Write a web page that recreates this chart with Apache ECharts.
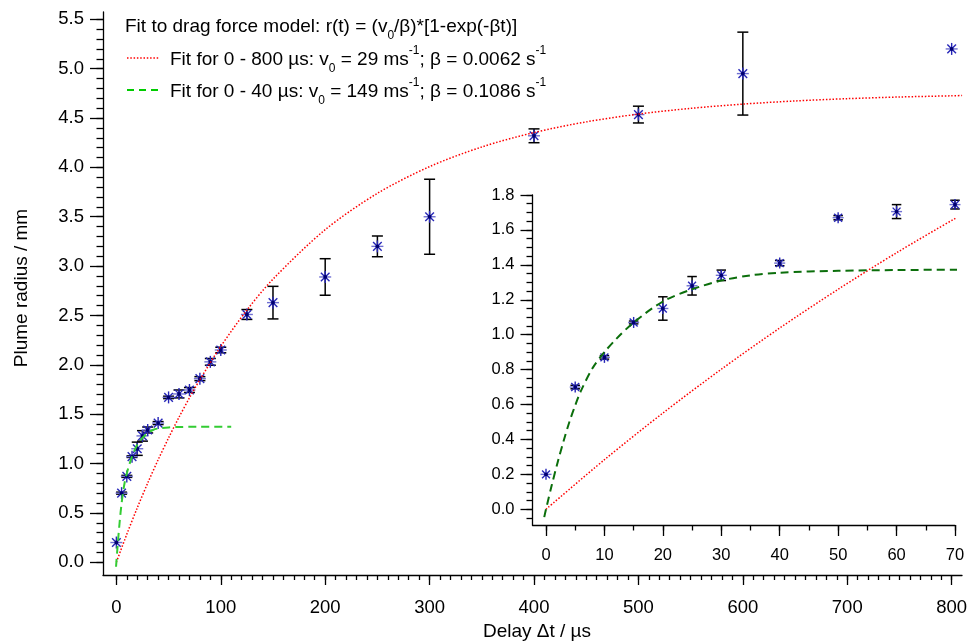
<!DOCTYPE html>
<html><head><meta charset="utf-8">
<script src="https://cdn.jsdelivr.net/npm/echarts@6/dist/echarts.min.js"></script>
<style>html,body{margin:0;padding:0;background:#fff}#chart{width:977px;height:644px}</style>
</head><body><div id="chart"></div>
<script>
// ---- data ----
const delayUs   = [0,5,10,15,20,25,30,40,50,60,70,80,90,100,125,150,200,250,300,400,500,600,800];
const radiusMm  = [0.20,0.70,0.87,1.07,1.15,1.28,1.34,1.41,1.67,1.705,1.745,1.86,2.03,2.15,2.51,2.63,2.89,3.20,3.50,4.32,4.535,4.95,5.20];
const radiusErr = [0,0.01,0.01,0.008,0.067,0.053,0.03,0.015,0.012,0.04,0.025,0.02,0.034,0.028,0.05,0.165,0.185,0.105,0.38,0.07,0.085,0.42,0];

// red dotted fit (0 - 800 us)
const fitLongT = [0,10,20,30,40,50,60,70,80,100,125,150,200,250,300,350,400,450,500,550,600,650,700,750,800,810];
const fitLongR = [0,0.284,0.551,0.802,1.038,1.260,1.469,1.665,1.850,2.187,2.554,2.868,3.369,3.737,4.008,4.207,4.353,4.461,4.540,4.598,4.641,4.673,4.696,4.713,4.725,4.728];
// green dashed fit (0 - 40 us)
const fitShortT = [-0.3,0,1,2,3,4,5,6,8,10,12,15,20,25,30,35,40,50,60,70,80,110];
const fitShortR = [-0.045,0,0.14,0.27,0.39,0.50,0.595,0.68,0.81,0.90,0.975,1.07,1.19,1.26,1.31,1.34,1.355,1.366,1.370,1.372,1.372,1.372];

// tick labels
const mainXTicks  = [0,100,200,300,400,500,600,700,800];
const mainYTicks  = [0,0.5,1.0,1.5,2.0,2.5,3.0,3.5,4.0,4.5,5.0,5.5];
const insetXTicks = [0,10,20,30,40,50,60,70];
const insetYTicks = [0,0.2,0.4,0.6,0.8,1.0,1.2,1.4,1.6,1.8];

function steps(a, b, s){ const out=[]; const n=Math.round((b-a)/s); for(let i=0;i<=n;i++) out.push(+(a+i*s).toFixed(4)); return out; }
const mainXMinor  = steps(0,800,10);
const mainYMinor  = steps(0,5.5,0.1);
const insetXMinor = steps(0,70,5);
const insetYMinor = steps(-0.05,1.8,0.05);

const FONT = '"Liberation Sans", Arial, Helvetica, sans-serif';
const rows = delayUs.map((t,i)=>[t, radiusMm[i], radiusErr[i]]);
const insetRows = rows.filter(r=>r[0] <= 70);
const longLine = fitLongT.map((t,i)=>[t, fitLongR[i]]);
const shortLine = fitShortT.map((t,i)=>[t, fitShortR[i]]);

function axis(kind, grid, min, max, ticks, tickLen, labels, fontSize, margin, fmt, showLine){
  return {
    type:'value', gridIndex:grid, min:min, max:max,
    position: kind==='x' ? 'bottom' : 'left',
    axisLine:{show:showLine, onZero:false, lineStyle:{color:'#000', width:1.3}},
    axisTick:{show:true, inside:false, length:tickLen, customValues:ticks, lineStyle:{color:'#000', width:1.3}},
    axisLabel: labels ? {show:true, customValues:ticks, margin:margin, fontSize:fontSize, fontFamily:FONT, color:'#000', formatter:fmt} : {show:false},
    splitLine:{show:false}, minorTick:{show:false}, minorSplitLine:{show:false}
  };
}
const fmt1 = v => Number(v).toFixed(1);
const fmt0 = v => String(Math.round(v));

function errRender(cap){
  return function(params, api){
    const x=api.value(0), y=api.value(1), e=api.value(2);
    if(!(e>0)) return {type:'group', children:[]};
    const p1=api.coord([x,y+e]), p2=api.coord([x,y-e]);
    const st={stroke:'#000', lineWidth:1.5};
    return {type:'group', children:[
      {type:'line', shape:{x1:p1[0],y1:p1[1],x2:p2[0],y2:p2[1]}, style:st},
      {type:'line', shape:{x1:p1[0]-cap/2,y1:p1[1],x2:p1[0]+cap/2,y2:p1[1]}, style:st},
      {type:'line', shape:{x1:p2[0]-cap/2,y1:p2[1],x2:p2[0]+cap/2,y2:p2[1]}, style:st}
    ]};
  };
}
function starRender(size){
  return function(params, api){
    const p=api.coord([api.value(0), api.value(1)]);
    const r=size/2, d=r*0.72, cx=p[0], cy=p[1];
    const dark={stroke:'#2626b8', lineWidth:1.4};
    const light={stroke:'#7070d2', lineWidth:1.4};
    return {type:'group', children:[
      {type:'line', shape:{x1:cx-r,y1:cy,x2:cx+r,y2:cy}, style:light},
      {type:'line', shape:{x1:cx,y1:cy-r,x2:cx,y2:cy+r}, style:dark},
      {type:'line', shape:{x1:cx-d,y1:cy-d,x2:cx+d,y2:cy+d}, style:dark},
      {type:'line', shape:{x1:cx-d,y1:cy+d,x2:cx+d,y2:cy-d}, style:dark},
      {type:'circle', shape:{cx:cx, cy:cy, r:1.9}, style:{fill:'#000070'}}
    ]};
  };
}

const chart = echarts.init(document.getElementById('chart'), null, {renderer:'canvas'});
const subSup = {
  sub:{fontSize:12, fontFamily:FONT, lineHeight:18, verticalAlign:'bottom', fill:'#000'},
  sup:{fontSize:12, fontFamily:FONT, lineHeight:12, verticalAlign:'top', fill:'#000'}
};
const legendStyle = (txt) => ({text:txt, fontSize:19, fontFamily:FONT, fill:'#000', lineHeight:30, verticalAlign:'middle', align:'left', rich:subSup});

chart.setOption({
  animation:false,
  backgroundColor:'#fff',
  grid:[
    {left:103, top:12, width:859, height:563, containLabel:false},
    {left:532.5, top:195, width:422.5, height:330, containLabel:false}
  ],
  xAxis:[
    axis('x',0,-12.8,809.9, mainXTicks, 10, true, 18.5, 23, fmt0, true),
    axis('x',0,-12.8,809.9, mainXMinor, 5, false, 0, 0, null, false),
    axis('x',1,-2.31,70, insetXTicks, 11, true, 16.5, 22, fmt0, true),
    axis('x',1,-2.31,70, insetXMinor, 5.5, false, 0, 0, null, false)
  ],
  yAxis:[
    axis('y',0,-0.129,5.574, mainYTicks, 13, true, 18.5, 19, fmt1, true),
    axis('y',0,-0.129,5.574, mainYMinor, 6.5, false, 0, 0, null, false),
    axis('y',1,-0.09,1.8, insetYTicks, 12, true, 16.5, 18, fmt1, true),
    axis('y',1,-0.09,1.8, insetYMinor, 6, false, 0, 0, null, false)
  ],
  series:[
    {type:'custom', xAxisIndex:0, yAxisIndex:0, data:rows, renderItem:errRender(11), encode:{x:0,y:1}, z:2},
    {type:'custom', xAxisIndex:0, yAxisIndex:0, data:rows, renderItem:starRender(12), encode:{x:0,y:1}, z:3},
    {type:'line', xAxisIndex:0, yAxisIndex:0, data:longLine, showSymbol:false, smooth:0.3, clip:true,
      lineStyle:{color:'#ff0000', width:1.5, type:[1.5,1.8]}, z:4},
    {type:'line', xAxisIndex:0, yAxisIndex:0, data:shortLine, showSymbol:false, smooth:0.3, clip:true,
      lineStyle:{color:'#33cc33', width:2, type:[8,5]}, z:4},
    {type:'custom', xAxisIndex:2, yAxisIndex:2, data:insetRows, renderItem:errRender(9.5), encode:{x:0,y:1}, z:2},
    {type:'custom', xAxisIndex:2, yAxisIndex:2, data:insetRows, renderItem:starRender(11), encode:{x:0,y:1}, z:3},
    {type:'line', xAxisIndex:2, yAxisIndex:2, data:longLine, showSymbol:false, smooth:0.3, clip:true,
      lineStyle:{color:'#ff0000', width:1.5, type:[1.5,1.8]}, z:4},
    {type:'line', xAxisIndex:2, yAxisIndex:2, data:shortLine, showSymbol:false, smooth:0.3, clip:true,
      lineStyle:{color:'#0b6e0b', width:2, type:[8,5]}, z:4}
  ],
  graphic:[
    {type:'text', x:125, y:27, style:legendStyle('Fit to drag force model: r(t) = (v{sub|0}/β)*[1-exp(-βt)]')},
    {type:'line', shape:{x1:127,y1:58,x2:159,y2:58}, style:{stroke:'#ff0000', lineWidth:1.5, lineDash:[1.5,1.8]}},
    {type:'text', x:170, y:60, style:legendStyle('Fit for 0 - 800 µs: v{sub|0} = 29 ms{sup|-1}; β = 0.0062 s{sup|-1}')},
    {type:'line', shape:{x1:127,y1:90,x2:159,y2:90}, style:{stroke:'#00cc00', lineWidth:2, lineDash:[7,5]}},
    {type:'text', x:170, y:92, style:legendStyle('Fit for 0 - 40 µs: v{sub|0} = 149 ms{sup|-1}; β = 0.1086 s{sup|-1}')},
    {type:'text', x:22, y:288, rotation:Math.PI/2, style:{text:'Plume radius / mm', fontSize:19, fontFamily:FONT, fill:'#000', align:'center', verticalAlign:'middle'}},
    {type:'text', x:537, y:632, style:{text:'Delay Δt / µs', fontSize:19, fontFamily:FONT, fill:'#000', align:'center', verticalAlign:'middle'}}
  ]
});
</script></body></html>
